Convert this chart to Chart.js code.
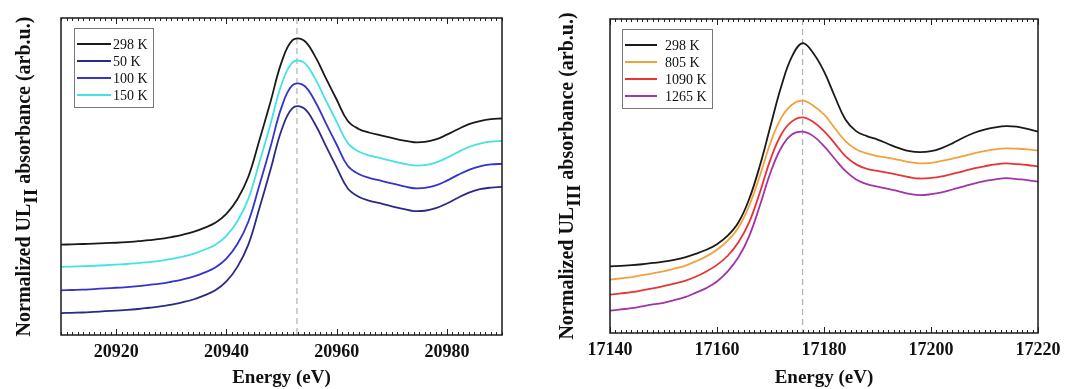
<!DOCTYPE html>
<html>
<head>
<meta charset="utf-8">
<script src="https://cdn.jsdelivr.net/npm/chart.js@4.4.1/dist/chart.umd.min.js"></script>
<style>
  html, body { margin: 0; padding: 0; background: #fff; overflow: hidden; }
  .panel { position: absolute; top: 0; }
  #wrap-left  { left: 0;   width: 540px; height: 388px; }
  #wrap-right { left: 540px; width: 534px; height: 388px; }
</style>
</head>
<body>
<div class="panel" id="wrap-left"><canvas id="chart-left"></canvas></div>
<div class="panel" id="wrap-right"><canvas id="chart-right"></canvas></div>
<script>
// U L2 edge (left panel), 2 eV grid
const energyL2 = [20910, 20912, 20914, 20916, 20918, 20920, 20922, 20924, 20926, 20928,
  20930, 20932, 20934, 20936, 20938, 20940, 20942, 20944, 20946, 20948,
  20950, 20952, 20954, 20956, 20958, 20960, 20962, 20964, 20966, 20968,
  20970, 20972, 20974, 20976, 20978, 20980, 20982, 20984, 20986, 20988, 20990];
const l2_298K = [28.5, 28.6, 28.7, 28.85, 29.0, 29.1, 29.3, 29.6, 29.9, 30.3,
  30.9, 31.6, 32.5, 33.8, 35.4, 38.2, 42.8, 50.0, 61.5, 73.5,
  86.0, 93.0, 93.0, 88.2, 81.2, 74.3, 67.6, 65.0, 63.8, 63.0,
  62.2, 61.4, 60.8, 60.9, 61.7, 63.2, 64.9, 66.5, 67.5, 68.1, 68.3];
const l2_50K = [6.9, 7.0, 7.1, 7.3, 7.5, 7.7, 7.9, 8.2, 8.6, 9.0,
  9.6, 10.3, 11.2, 12.5, 14.1, 16.9, 21.5, 28.6, 40.1, 52.1,
  64.6, 71.6, 71.6, 66.8, 59.8, 52.9, 46.3, 43.6, 42.3, 41.5,
  40.6, 39.8, 39.1, 39.2, 40.0, 41.5, 43.3, 44.9, 46.0, 46.5, 46.7];
const l2_100K = [14.1, 14.2, 14.3, 14.5, 14.7, 14.9, 15.1, 15.4, 15.8, 16.2,
  16.8, 17.5, 18.4, 19.7, 21.3, 24.1, 28.7, 35.8, 47.3, 59.3,
  71.8, 78.8, 78.8, 74.0, 67.0, 60.1, 53.4, 50.8, 49.5, 48.7,
  47.8, 47.0, 46.3, 46.4, 47.2, 48.7, 50.5, 52.1, 53.2, 53.8, 54.0];
const l2_150K = [21.5, 21.6, 21.7, 21.85, 22.0, 22.2, 22.4, 22.7, 23.0, 23.4,
  24.0, 24.7, 25.6, 26.9, 28.5, 31.3, 35.9, 43.0, 54.5, 66.5,
  79.0, 86.0, 86.0, 81.2, 74.2, 67.3, 60.6, 57.9, 56.6, 55.8,
  54.9, 54.1, 53.5, 53.6, 54.4, 55.9, 57.7, 59.3, 60.4, 61.0, 61.2];

// U L3 edge (right panel), 2 eV grid
const energyL3 = [17140, 17142, 17144, 17146, 17148, 17150, 17152, 17154, 17156, 17158,
  17160, 17162, 17164, 17166, 17168, 17170, 17172, 17174, 17176, 17178,
  17180, 17182, 17184, 17186, 17188, 17190, 17192, 17194, 17196, 17198,
  17200, 17202, 17204, 17206, 17208, 17210, 17212, 17214, 17216, 17218, 17220];
const l3_298K = [21.2, 21.4, 21.6, 21.9, 22.3, 22.7, 23.3, 24.1, 25.2, 26.5,
  28.3, 31.0, 35.2, 42.6, 53.2, 65.9, 78.5, 88.0, 92.3, 89.1,
  83.3, 75.4, 68.0, 64.3, 62.7, 61.6, 60.2, 58.9, 57.9, 57.6,
  57.9, 58.9, 60.4, 62.2, 63.7, 64.8, 65.5, 65.9, 65.7, 65.0, 64.1];
const l3_805K = [17.0, 17.4, 17.8, 18.4, 19.0, 19.6, 20.5, 21.4, 22.8, 24.4,
  26.5, 29.4, 33.6, 40.5, 50.0, 60.6, 68.5, 72.7, 74.0, 72.4,
  69.6, 65.3, 61.1, 58.5, 57.2, 56.3, 55.8, 55.1, 54.4, 54.0,
  54.2, 54.8, 55.5, 56.3, 57.2, 57.9, 58.5, 58.8, 58.7, 58.5, 58.1];
const l3_1090K = [12.2, 12.6, 13.0, 13.6, 14.2, 14.9, 15.7, 16.6, 17.9, 19.6,
  21.7, 24.6, 28.9, 35.2, 44.7, 55.3, 63.2, 67.4, 68.7, 67.2,
  64.3, 60.4, 56.3, 53.7, 52.3, 51.6, 51.0, 50.3, 49.6, 49.2,
  49.4, 49.9, 50.7, 51.5, 52.4, 53.1, 53.7, 54.0, 53.8, 53.5, 53.0];
const l3_1265K = [7.1, 7.5, 7.9, 8.5, 9.1, 9.6, 10.5, 11.4, 12.8, 14.3,
  16.4, 19.6, 24.1, 30.8, 40.5, 51.1, 59.0, 63.2, 64.1, 62.7,
  59.5, 55.5, 51.6, 48.9, 47.4, 46.6, 45.9, 45.1, 44.3, 43.9,
  44.2, 44.8, 45.7, 46.6, 47.6, 48.4, 48.9, 49.3, 49.0, 48.7, 48.2];

const peakL2 = 20952.8;
const peakL3 = 17176;

const SERIF = '"Liberation Serif", "Times New Roman", serif';

function pts(xs, ys) { return xs.map((x, i) => ({ x, y: ys[i] })); }

function serie(label, xs, ys, color) {
  return { label, data: pts(xs, ys), borderColor: color, backgroundColor: color, borderWidth: 1.8,
    pointRadius: 0, tension: 0.4 };
}

/** caixa, ticks internos, linha tracejada, legenda e título do eixo y */
const framePlugin = {
  id: 'frame',
  beforeDatasetsDraw(chart, args, opts) {
    const { ctx, chartArea: a, scales: { x } } = chart;
    const px = x.getPixelForValue(opts.peak);
    ctx.save();
    ctx.strokeStyle = '#b0b0b0';
    ctx.lineWidth = 1.2;
    ctx.setLineDash([6, 4]);
    ctx.beginPath(); ctx.moveTo(px, a.top); ctx.lineTo(px, a.bottom); ctx.stroke();
    ctx.restore();
  },
  afterDraw(chart, args, opts) {
    const { ctx, chartArea: a, scales: { x } } = chart;
    ctx.save();
    // ticks
    ctx.strokeStyle = '#222';
    ctx.lineWidth = 1;
    for (let v = x.min; v <= x.max; v++) {
      const p = Math.round(x.getPixelForValue(v)) + 0.5;
      const len = v % 20 === 0 ? 6 : 3;
      ctx.beginPath();
      ctx.moveTo(p, a.bottom); ctx.lineTo(p, a.bottom - len);
      ctx.moveTo(p, a.top); ctx.lineTo(p, a.top + len);
      ctx.stroke();
    }
    // caixa
    ctx.strokeStyle = '#1a1a1a';
    ctx.lineWidth = 1.5;
    ctx.strokeRect(a.left, a.top, a.right - a.left, a.bottom - a.top);

    // legenda
    const lg = opts.legend;
    const bx = a.left + lg.dx, by = a.top + lg.dy;
    ctx.strokeStyle = '#777';
    ctx.lineWidth = 1;
    ctx.strokeRect(bx + 0.5, by + 0.5, lg.w, lg.h);
    ctx.font = '14px ' + SERIF;
    ctx.textBaseline = 'middle';
    ctx.fillStyle = '#111';
    chart.data.datasets.forEach((ds, i) => {
      const yy = by + 16 + i * 17;
      ctx.strokeStyle = ds.borderColor;
      ctx.lineWidth = 2;
      ctx.beginPath(); ctx.moveTo(bx + 3, yy); ctx.lineTo(bx + lg.lineLen, yy); ctx.stroke();
      ctx.fillText(ds.label, bx + lg.textX, yy + 1);
    });

    // título do eixo y com subscrito
    const parts = [
      { t: 'Normalized UL', f: 'bold 20px ' + SERIF, dy: 0 },
      { t: opts.sub, f: 'bold 19px ' + SERIF, dy: 7 },
      { t: ' absorbance (arb.u.)', f: 'bold 20px ' + SERIF, dy: 0 }
    ];
    let total = 0;
    parts.forEach(p => { ctx.font = p.f; p.w = ctx.measureText(p.t).width; total += p.w; });
    ctx.translate(opts.titleX, (a.top + a.bottom) / 2);
    ctx.rotate(-Math.PI / 2);
    ctx.fillStyle = '#111';
    ctx.textBaseline = 'middle';
    ctx.textAlign = 'left';
    let cx = -total / 2;
    parts.forEach(p => { ctx.font = p.f; ctx.fillText(p.t, cx, p.dy); cx += p.w; });
    ctx.restore();
  }
};

function opcoes(xmin, xmax, pad, tickPad, titlePad, extra) {
  return {
    responsive: true, maintainAspectRatio: false, animation: false,
    layout: { padding: pad },
    plugins: { legend: { display: false }, tooltip: { enabled: false }, frame: extra },
    scales: {
      x: {
        type: 'linear', min: xmin, max: xmax,
        grid: { display: false, drawTicks: false },
        border: { display: false },
        ticks: { stepSize: 10, autoSkip: false, maxRotation: 0, padding: tickPad, color: '#111',
          font: { family: SERIF, size: 18, weight: 'bold', lineHeight: 1 },
          callback: v => v % 20 === 0 ? String(v) : '' },
        title: { display: true, text: 'Energy (eV)', color: '#111', padding: { top: titlePad, bottom: 0 },
          font: { family: SERIF, size: 19, weight: 'bold', lineHeight: 1 } }
      },
      y: { display: false, min: 0, max: 100 }
    }
  };
}

new Chart(document.getElementById('chart-left'), {
  type: 'line',
  data: { datasets: [
    serie('298 K', energyL2, l2_298K, '#1a1a1a'),
    serie('50 K', energyL2, l2_50K, '#2b2b86'),
    serie('100 K', energyL2, l2_100K, '#3434cc'),
    serie('150 K', energyL2, l2_150K, '#45e2e2')
  ] },
  options: opcoes(20910, 20990, { left: 61, right: 38, top: 18, bottom: 0 }, 8, 0,
    { peak: peakL2, sub: 'II', titleX: 25, legend: { dx: 13, dy: 10, w: 79, h: 79, lineLen: 37, textX: 39 } }),
  plugins: [framePlugin]
});

new Chart(document.getElementById('chart-right'), {
  type: 'line',
  data: { datasets: [
    serie('298 K', energyL3, l3_298K, '#1a1a1a'),
    serie('805 K', energyL3, l3_805K, '#f5a03c'),
    serie('1090 K', energyL3, l3_1090K, '#e83434'),
    serie('1265 K', energyL3, l3_1265K, '#a334a8')
  ] },
  options: opcoes(17140, 17220, { left: 70, right: 36, top: 19, bottom: 0 }, 8, 2,
    { peak: peakL3, sub: 'III', titleX: 28, legend: { dx: 12, dy: 10, w: 90, h: 79, lineLen: 35, textX: 43 } }),
  plugins: [framePlugin]
});
</script>
</body>
</html>
